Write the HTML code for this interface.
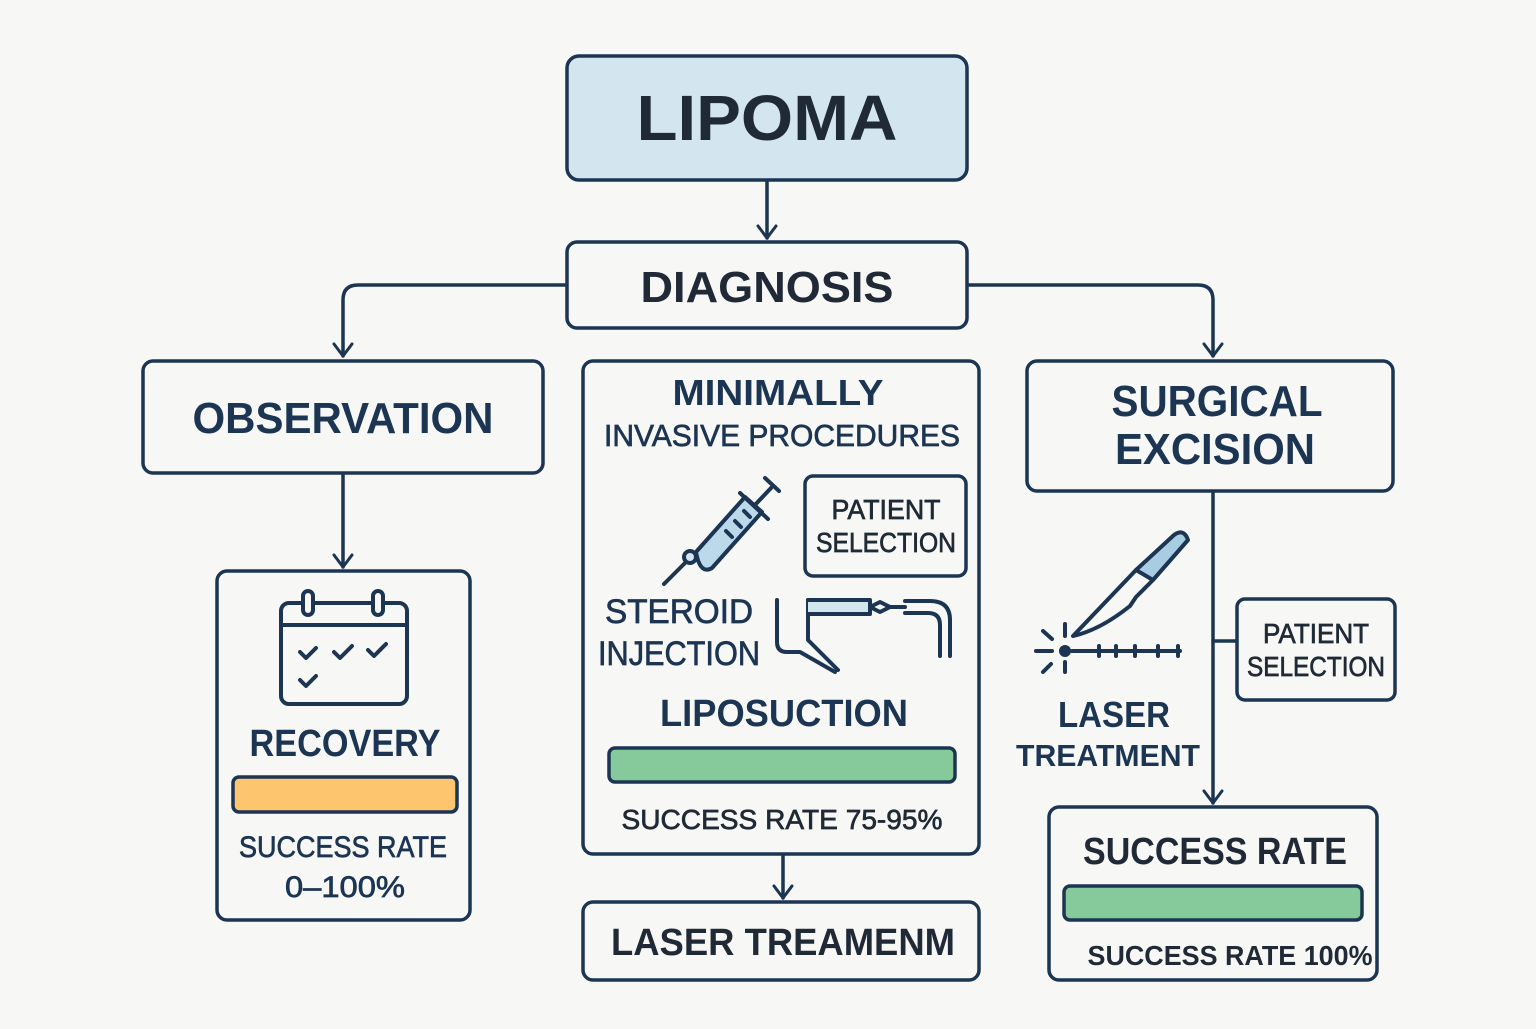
<!DOCTYPE html>
<html><head><style>html,body{margin:0;padding:0;background:#f7f7f5}</style></head>
<body>
<svg width="1536" height="1024" viewBox="0 0 1536 1024" xmlns="http://www.w3.org/2000/svg" font-family="'Liberation Sans','DejaVu Sans',sans-serif" font-weight="bold">
<rect width="1536" height="1024" fill="#f7f7f5"/>
<defs><marker id="a" markerWidth="20" markerHeight="20" refX="9" refY="0" orient="auto" markerUnits="userSpaceOnUse" viewBox="-10 -10 20 20" style="overflow:visible"><path d="M-3,-9 L9,0 L-3,9" fill="none" stroke="#1c3553" stroke-width="3" stroke-linecap="round" stroke-linejoin="round"/></marker></defs>
<g fill="none" stroke="#1c3553" stroke-width="3.5" stroke-linecap="round">
<path d="M767,181 V238" marker-end="url(#a)"/>
<path d="M567,285 H358 Q343,285 343,300 V356" marker-end="url(#a)"/>
<path d="M967,285 H1198 Q1213,285 1213,300 V356" marker-end="url(#a)"/>
<path d="M343,474 V567" marker-end="url(#a)"/>
<path d="M783,855 V898" marker-end="url(#a)"/>
<path d="M1213,492 V803" marker-end="url(#a)"/>
<path d="M1213,641 H1237"/>
</g>
<g stroke="#1c3553" stroke-width="3.5" fill="#f7f7f5">
<rect x="567" y="56" width="400" height="124" rx="12" fill="#d3e6f0"/>
<rect x="567" y="242" width="400" height="86" rx="10"/>
<rect x="143" y="361" width="400" height="112" rx="10"/>
<rect x="217" y="571" width="253" height="349" rx="10"/>
<rect x="583" y="361" width="396" height="493" rx="10"/>
<rect x="805" y="476" width="161" height="100" rx="8"/>
<rect x="583" y="902" width="396" height="78" rx="10"/>
<rect x="1027" y="361" width="366" height="130" rx="10"/>
<rect x="1237" y="599" width="158" height="101" rx="8"/>
<rect x="1049" y="807" width="328" height="173" rx="10"/>
<rect x="233" y="777" width="224" height="35" rx="6" fill="#fcc56e"/>
<rect x="609" y="748" width="346" height="34" rx="6" fill="#86c99a"/>
<rect x="1064" y="886" width="298" height="34" rx="6" fill="#86c99a"/>
</g>
<g fill="none" stroke="#1c3553" stroke-width="4" stroke-linecap="round" stroke-linejoin="round">
<rect x="281" y="603" width="126" height="101" rx="8" fill="#f7f7f5"/>
<path d="M281,625 H407"/>
<rect x="303" y="591" width="10" height="24" rx="5" fill="#f7f7f5"/>
<rect x="373" y="591" width="10" height="24" rx="5" fill="#f7f7f5"/>
<path d="M300,652 l6,6 l10,-10 M334,652 l6,6 l12,-12 M368,650 l6,6 l12,-12 M300,680 l6,6 l10,-10"/>
</g>
<g stroke="#1c3553" stroke-width="4" stroke-linecap="round" stroke-linejoin="round" fill="none">
<path d="M664,584 L688,560"/>
<circle cx="690" cy="557" r="6" fill="#d3e6f0"/>
<path d="M696,552 L745,497 L762,512 L712,568 Q700,575 696,552 Z" fill="#bcd9eb"/>
<path d="M740,493 L768,519 M754,506 L771,488 M765,478 L779,491"/>
<path d="M726,531 l6,6 M735,521 l6,6 M744,511 l6,6"/>
</g>
<g stroke="#1c3553" stroke-width="4" stroke-linecap="round" stroke-linejoin="round" fill="none">
<path d="M777,600 V642 Q777,652 787,652 H800 L835,672"/>
<path d="M808,600 V640 L838,670"/>
<path d="M808,600 H870 V614 H808" fill="#d3e6f0"/>
<path d="M870,607 L880,602 L890,607 L880,612 Z"/>
<path d="M890,607 H905"/>
<path d="M905,601 H930 Q950,601 950,620 V656 M905,613 H928 Q940,613 940,625 V656"/>
</g>
<g stroke="#1c3553" stroke-width="4" stroke-linecap="round" stroke-linejoin="round" fill="none">
<path d="M1136,570 L1174,535 Q1184,528 1188,540 L1153,580 Z" fill="#a8cde3"/>
<path d="M1136,570 L1073,636 Q1100,630 1130,606 L1136,597 L1153,580"/>
<path d="M1072,651 H1180 M1099,646 v10 M1116,646 v10 M1135,646 v10 M1158,646 v10 M1178,646 v10"/>
<circle cx="1065" cy="651" r="4" fill="#1c3553"/>
<path d="M1036,651 h16 M1065,624 v12 M1065,662 v10 M1043,631 l9,8 M1043,672 l8,-8"/>
</g>
<g text-anchor="middle" lengthAdjust="spacingAndGlyphs">
<text x="767" y="140" font-size="64" fill="#1f2a36" textLength="261" lengthAdjust="spacingAndGlyphs">LIPOMA</text>
<text x="767" y="302" font-size="44" fill="#1f2a36" textLength="253" lengthAdjust="spacingAndGlyphs">DIAGNOSIS</text>
<g fill="#1c3553">
<text x="343" y="433" font-size="44" textLength="301" lengthAdjust="spacingAndGlyphs">OBSERVATION</text>
<text x="345" y="756" font-size="38" textLength="191" lengthAdjust="spacingAndGlyphs">RECOVERY</text>
<g font-weight="normal" stroke="#1c3553" stroke-width="0.7">
<text x="343" y="857" font-size="30" textLength="208" lengthAdjust="spacingAndGlyphs">SUCCESS RATE</text>
<text x="345" y="897" font-size="30" textLength="120" lengthAdjust="spacingAndGlyphs">0–100%</text>
<text x="782" y="446" font-size="31" textLength="356" lengthAdjust="spacingAndGlyphs">INVASIVE PROCEDURES</text>
<text x="679" y="623" font-size="34" textLength="148" lengthAdjust="spacingAndGlyphs">STEROID</text>
<text x="679" y="665" font-size="34" textLength="162" lengthAdjust="spacingAndGlyphs">INJECTION</text>
</g>
<g font-weight="normal" stroke="#1f2a36" stroke-width="0.7" fill="#1f2a36">
<text x="886" y="519" font-size="28" textLength="109" lengthAdjust="spacingAndGlyphs">PATIENT</text>
<text x="886" y="552" font-size="28" textLength="140" lengthAdjust="spacingAndGlyphs">SELECTION</text>
<text x="782" y="829" font-size="28" textLength="321" lengthAdjust="spacingAndGlyphs">SUCCESS RATE 75-95%</text>
<text x="1316" y="643" font-size="28" textLength="106" lengthAdjust="spacingAndGlyphs">PATIENT</text>
<text x="1316" y="676" font-size="28" textLength="138" lengthAdjust="spacingAndGlyphs">SELECTION</text>
</g>
<text x="778" y="405" font-size="36" textLength="211" lengthAdjust="spacingAndGlyphs">MINIMALLY</text>
<text x="784" y="726" font-size="38" textLength="248" lengthAdjust="spacingAndGlyphs">LIPOSUCTION</text>
<text x="783" y="955" font-size="38" fill="#1f2a36" textLength="344" lengthAdjust="spacingAndGlyphs">LASER TREAMENM</text>
<text x="1217" y="416" font-size="44" textLength="211" lengthAdjust="spacingAndGlyphs">SURGICAL</text>
<text x="1215" y="464" font-size="44" textLength="200" lengthAdjust="spacingAndGlyphs">EXCISION</text>
<text x="1114" y="727" font-size="36" textLength="112" lengthAdjust="spacingAndGlyphs">LASER</text>
<text x="1108" y="766" font-size="31" textLength="184" lengthAdjust="spacingAndGlyphs">TREATMENT</text>
<text x="1215" y="864" font-size="38" fill="#1f2a36" textLength="264" lengthAdjust="spacingAndGlyphs">SUCCESS RATE</text>
<text x="1230" y="965" font-size="28" fill="#1f2a36" textLength="285" lengthAdjust="spacingAndGlyphs">SUCCESS RATE 100%</text>
</g>
</g>
</svg>
</body></html>
